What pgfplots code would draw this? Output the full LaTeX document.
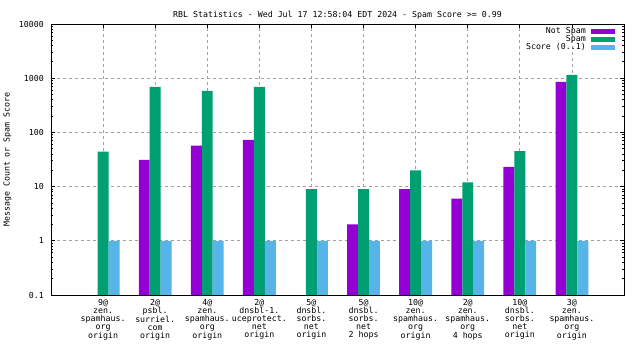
\documentclass[border=0pt]{standalone}
\usepackage{fontspec}
\setmainfont{DejaVu Sans Mono}
\usepackage{pgfplots}
\pgfplotsset{compat=1.18}
\definecolor{cNot}{HTML}{9400D3}
\definecolor{cSpam}{HTML}{009E73}
\definecolor{cScore}{HTML}{56B4E9}
\definecolor{cGrid}{HTML}{A0A0A0}
\newcommand{\gpfont}{\fontsize{8.3}{8}\selectfont}
\begin{document}
\begin{tikzpicture}
\path[use as bounding box, fill=white] (0bp,0bp) rectangle (640bp,360bp);
\begin{axis}[
  at={(51bp,65bp)}, anchor=south west,
  scale only axis, width=573bp, height=271bp,
  ymode=log, log origin=infty,
  ymin=0.1, ymax=10000,
  xmin=-1, xmax=10,
  ybar=0pt, bar width=0.21,
  legend image code/.code={\fill[#1, draw=none] (5bp,-2.5bp) rectangle (29bp,2.5bp); \path (0bp,0bp);},
  xtick={0,...,9},
  xticklabels={{9@\\zen.\\spamhaus.\\org\\origin},
               {2@\\psbl.\\surriel.\\com\\origin},
               {4@\\zen.\\spamhaus.\\org\\origin},
               {2@\\dnsbl-1.\\uceprotect.\\net\\origin},
               {5@\\dnsbl.\\sorbs.\\net\\origin},
               {5@\\dnsbl.\\sorbs.\\net\\2 hops},
               {10@\\zen.\\spamhaus.\\org\\origin},
               {2@\\zen.\\spamhaus.\\org\\4 hops},
               {10@\\dnsbl.\\sorbs.\\net\\origin},
               {3@\\zen.\\spamhaus.\\org\\origin}},
  ytick={0.1,1,10,100,1000,10000},
  yticklabels={0.1,1,10,100,1000,10000},
  minor ytick={0.2,0.3,0.4,0.5,0.6,0.7,0.8,0.9,2,3,4,5,6,7,8,9,20,30,40,50,60,70,80,90,200,300,400,500,600,700,800,900,2000,3000,4000,5000,6000,7000,8000,9000},
  tick align=inside,
  major tick length=4bp, minor tick length=2bp,
  tick style={black, line width=0.8bp},
  axis line style={black, line width=0.9bp},
  grid=major,
  major grid style={cGrid, dash pattern=on 3bp off 3bp, line width=0.8bp},
  minor grid style={draw=none},
  xticklabel style={align=center, font=\gpfont, inner sep=0pt, yshift=-4bp},
  yticklabel style={font=\gpfont, inner sep=0pt, xshift=-7bp},
  every axis y label/.style={at={(axis description cs:0,0.5)}, xshift=-43.5bp, rotate=90, anchor=center, font=\gpfont},
  ylabel={Message Count or Spam Score},
  every axis title/.style={at={(axis description cs:0.5,1)}, yshift=9bp, anchor=center, font=\gpfont},
  title={RBL Statistics - Wed Jul 17 12:58:04 EDT 2024 - Spam Score >= 0.99},
  legend style={at={(axis description cs:1,1)}, anchor=north east, draw=none, fill=none, font=\gpfont, xshift=-9bp, yshift=-3bp, row sep=0pt, inner sep=0pt, nodes={inner sep=0pt, text height=6bp, text depth=2bp}},
  legend cell align=right, legend plot pos=right,
]
\addplot[fill=cNot, draw=none] coordinates {(1,31) (2,57) (3,73) (5,2) (6,9) (7,6) (8,23) (9,858)};
\addplot[fill=cSpam, draw=none] coordinates {(0,44) (1,692) (2,585) (3,692) (4,9) (5,9) (6,20) (7,12) (8,45) (9,1156)};
\addplot[fill=cScore, draw=none] coordinates {(0,1) (1,1) (2,1) (3,1) (4,1) (5,1) (6,1) (7,1) (8,1) (9,1)};
\legend{Not Spam, Spam, Score (0..1)}
\end{axis}
\end{tikzpicture}
\end{document}
